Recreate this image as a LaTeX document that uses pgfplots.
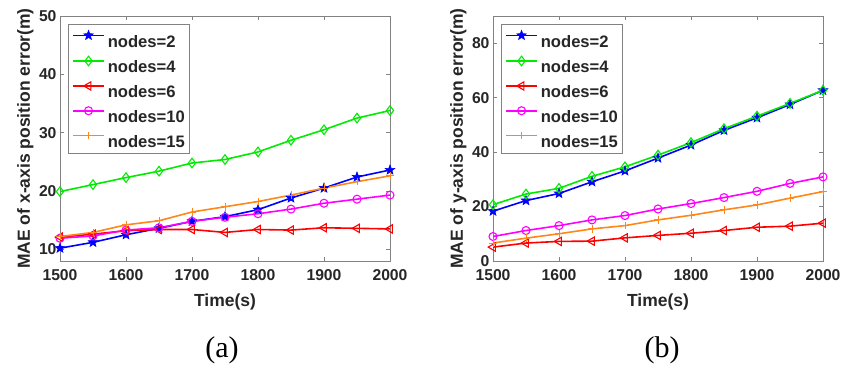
\documentclass[border=0pt]{standalone}
\usepackage{fontspec}
\setmainfont{Liberation Sans}
\newfontfamily\serifx{Liberation Serif}
\usepackage{pgfplots}
\pgfplotsset{compat=1.18}
\definecolor{cblue}{RGB}{0,0,255}
\definecolor{cgreen}{RGB}{0,235,0}
\definecolor{cred}{RGB}{255,0,0}
\definecolor{cmag}{RGB}{255,0,255}
\definecolor{corange}{RGB}{255,135,25}
\definecolor{axisgray}{RGB}{130,130,130}
\definecolor{labelc}{RGB}{38,38,38}
\pgfdeclareplotmark{pentagram}{%
  \pgfpathmoveto{\pgfpointpolar{90}{\pgfplotmarksize}}%
  \pgfpathlineto{\pgfpointpolar{126}{0.42\pgfplotmarksize}}%
  \pgfpathlineto{\pgfpointpolar{162}{\pgfplotmarksize}}%
  \pgfpathlineto{\pgfpointpolar{198}{0.42\pgfplotmarksize}}%
  \pgfpathlineto{\pgfpointpolar{234}{\pgfplotmarksize}}%
  \pgfpathlineto{\pgfpointpolar{270}{0.42\pgfplotmarksize}}%
  \pgfpathlineto{\pgfpointpolar{306}{\pgfplotmarksize}}%
  \pgfpathlineto{\pgfpointpolar{342}{0.42\pgfplotmarksize}}%
  \pgfpathlineto{\pgfpointpolar{18}{\pgfplotmarksize}}%
  \pgfpathlineto{\pgfpointpolar{54}{0.42\pgfplotmarksize}}%
  \pgfpathclose
  \pgfusepathqfillstroke
}
\newcommand{\tfont}{\fontsize{15.7}{18}\selectfont\bfseries}
\newcommand{\legfont}{\fontsize{16.6}{19}\selectfont\bfseries}
\newcommand{\lfont}{\fontsize{17.5}{20}\selectfont\bfseries}
\pgfplotsset{
  myaxis/.style={
    scale only axis, width=330pt, height=245pt,
    xmin=1500, xmax=2000, xtick={1500,1600,...,2000},
    axis line style={draw=axisgray, line width=0.8pt},
    tick style={draw=axisgray, line width=0.8pt},
    major tick length=4pt,
    tick align=inside,
    ticklabel style={font=\tfont, text=labelc},
    xticklabel style={yshift=-5pt},
    /pgf/number format/assume math mode=true,
    /pgf/number format/1000 sep={},
    xlabel={Time(s)},
    every axis x label/.style={at={(axis description cs:0.5,0)}, anchor=center, yshift=-41pt, font=\lfont, text=labelc},
    every axis y label/.style={at={(axis description cs:-0.105,0.5)}, rotate=90, anchor=center, font=\lfont, text=labelc},
    legend style={at={(0.024,0.967)}, anchor=north west, draw=axisgray, line width=0.6pt, fill=white, font=\legfont, text=labelc,
      inner xsep=4pt, inner ysep=6pt, row sep=8.8pt, column sep=3pt,
      nodes={inner sep=0pt, text height=12pt, text depth=0pt}, cells={anchor=west}},
    legend image code/.code={\draw[mark repeat=2,mark phase=2, yshift=6pt] plot coordinates {(0pt,0pt)(15.5pt,0pt)(31pt,0pt)};},
    every axis plot/.append style={line width=1.6pt},
  },
  s2/.style={color=cblue, mark=pentagram, mark size=5pt, mark options={solid, fill=cblue, line width=0.6pt}},
  s4/.style={color=cgreen, mark=diamond, mark size=4.8pt, mark options={solid, line width=1.1pt}},
  s6/.style={color=cred, mark=triangle, mark size=4.8pt, mark options={solid, rotate=90, line width=1.1pt}},
  s10/.style={color=cmag, mark=o, mark size=4pt, mark options={solid, line width=1.1pt}},
  s15/.style={color=corange, mark=+, mark size=3.8pt, mark options={solid, line width=0.9pt}},
}
\begin{document}
\begin{tikzpicture}
\path[use as bounding box] (0,0) rectangle (866pt,370pt);
\begin{axis}[myaxis, at={(60pt,109pt)}, anchor=south west,
  ymin=8, ymax=50, ytick={10,20,...,50},
  ylabel={MAE of x-axis position error(m)}]
\addplot[s2] coordinates {(1500,10.2)(1550,11.2)(1600,12.5)(1650,13.6)(1700,14.8)(1750,15.6)(1800,16.8)(1850,18.8)(1900,20.5)(1950,22.4)(2000,23.6)};
\addlegendentry{nodes=2}
\addplot[s4] coordinates {(1500,19.9)(1550,21.1)(1600,22.3)(1650,23.4)(1700,24.8)(1750,25.4)(1800,26.7)(1850,28.7)(1900,30.5)(1950,32.5)(2000,33.8)};
\addlegendentry{nodes=4}
\addplot[s6] coordinates {(1500,12.1)(1550,12.6)(1600,13.2)(1650,13.4)(1700,13.4)(1750,12.9)(1800,13.4)(1850,13.3)(1900,13.7)(1950,13.6)(2000,13.5)};
\addlegendentry{nodes=6}
\addplot[s10] coordinates {(1500,11.9)(1550,12.3)(1600,13.3)(1650,13.7)(1700,14.8)(1750,15.5)(1800,16.1)(1850,16.9)(1900,17.9)(1950,18.6)(2000,19.3)};
\addlegendentry{nodes=10}
\addplot[s15] coordinates {(1500,12.2)(1550,12.9)(1600,14.2)(1650,14.9)(1700,16.4)(1750,17.3)(1800,18.2)(1850,19.3)(1900,20.5)(1950,21.6)(2000,22.6)};
\addlegendentry{nodes=15}
\end{axis}
\begin{axis}[myaxis, at={(493pt,109pt)}, anchor=south west,
  ymin=0, ymax=90, ytick={0,20,...,80},
  ylabel={MAE of y-axis position error(m)}]
\addplot[s2] coordinates {(1500,18.3)(1550,22.2)(1600,24.8)(1650,29.1)(1700,33.1)(1750,37.8)(1800,42.6)(1850,48.0)(1900,52.6)(1950,57.5)(2000,62.7)};
\addlegendentry{nodes=2}
\addplot[s4] coordinates {(1500,20.7)(1550,24.6)(1600,26.7)(1650,31.1)(1700,34.6)(1750,38.9)(1800,43.5)(1850,48.6)(1900,53.2)(1950,57.9)(2000,62.7)};
\addlegendentry{nodes=4}
\addplot[s6] coordinates {(1500,5.1)(1550,6.6)(1600,7.2)(1650,7.3)(1700,8.5)(1750,9.4)(1800,10.2)(1850,11.2)(1900,12.4)(1950,12.8)(2000,13.9)};
\addlegendentry{nodes=6}
\addplot[s10] coordinates {(1500,9.0)(1550,11.2)(1600,13.0)(1650,15.1)(1700,16.7)(1750,19.1)(1800,21.1)(1850,23.3)(1900,25.6)(1950,28.5)(2000,30.9)};
\addlegendentry{nodes=10}
\addplot[s15] coordinates {(1500,6.6)(1550,8.4)(1600,10.0)(1650,11.8)(1700,13.0)(1750,15.1)(1800,16.8)(1850,18.8)(1900,20.6)(1950,23.1)(2000,25.5)};
\addlegendentry{nodes=15}
\end{axis}
\node[font=\serifx\fontsize{30}{34}\selectfont, text=black] at (222pt,20pt) {(a)};
\node[font=\serifx\fontsize{30}{34}\selectfont, text=black] at (662pt,20pt) {(b)};
\end{tikzpicture}
\end{document}
